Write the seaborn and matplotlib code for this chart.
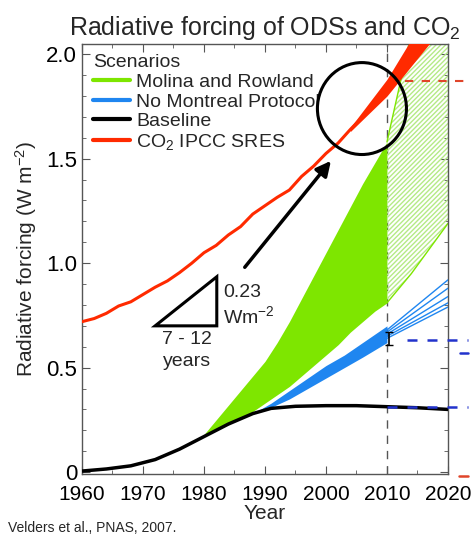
import numpy as np
import pandas as pd
import seaborn as sns
import matplotlib.pyplot as plt
from matplotlib.lines import Line2D
from matplotlib.patches import Ellipse, Polygon
from matplotlib.ticker import MultipleLocator

# CO2 IPCC SRES (observed line)
co2_years = [1960, 1962, 1964, 1966, 1968, 1970, 1972, 1974, 1976, 1978, 1980, 1982, 1984,
             1986, 1988, 1990, 1992, 1994, 1996, 1998, 2000, 2002, 2004, 2006, 2008, 2010]
co2_vals = [0.72, 0.735, 0.76, 0.795, 0.815, 0.85, 0.885, 0.915, 0.955, 1.0, 1.05, 1.085, 1.135,
            1.175, 1.235, 1.275, 1.315, 1.35, 1.415, 1.465, 1.525, 1.575, 1.64, 1.70, 1.76, 1.82]
# CO2 scenario spread
co2_fan_years = [2004, 2010, 2015, 2020]
co2_fan_low = [1.63, 1.80, 1.98, 2.16]
co2_fan_high = [1.65, 1.88, 2.12, 2.40]

# Molina and Rowland scenario band
mr_years = [1978, 1980, 1982, 1984, 1986, 1988, 1990, 1992, 1994, 1996, 1998,
            2000, 2002, 2004, 2006, 2008, 2010]
mr_low = [0.14, 0.17, 0.20, 0.23, 0.26, 0.29, 0.33, 0.37, 0.41, 0.46, 0.51,
          0.56, 0.61, 0.67, 0.72, 0.77, 0.81]
mr_high = [0.14, 0.18, 0.25, 0.32, 0.39, 0.46, 0.53, 0.62, 0.72, 0.83, 0.94,
           1.05, 1.16, 1.27, 1.38, 1.48, 1.58]
mr_fut_years = [2010, 2012, 2014, 2016, 2018, 2020]
mr_fut_low = [0.81, 0.88, 0.95, 1.03, 1.11, 1.19]
mr_fut_high = [1.58, 1.84, 2.10, 2.40, 2.70, 3.00]

# No Montreal Protocol band
nmp_years = [1988, 1991, 1994, 1997, 2000, 2003, 2006, 2010]
nmp_low = [0.28, 0.31, 0.35, 0.40, 0.45, 0.50, 0.55, 0.62]
nmp_high = [0.28, 0.33, 0.39, 0.45, 0.51, 0.56, 0.62, 0.70]
nmp_fut_start = [0.64, 0.65, 0.66, 0.67, 0.68]
nmp_fut_end = [0.79, 0.81, 0.84, 0.88, 0.92]

# Baseline
base_years = [1960, 1964, 1968, 1972, 1976, 1980, 1984, 1988, 1991, 1995, 2000, 2005, 2010, 2015, 2020]
base_vals = [0.005, 0.015, 0.03, 0.06, 0.11, 0.17, 0.23, 0.28, 0.305, 0.315, 0.318, 0.318, 0.313, 0.308, 0.30]

green = '#7ee600'
blue = '#1f86f0'
red = '#ff2a00'

sns.set_style('ticks')
plt.rcParams['font.family'] = ['Liberation Sans', 'DejaVu Sans']
plt.rcParams['mathtext.default'] = 'regular'

fig = plt.figure(figsize=(4.74, 5.34), dpi=100)
ax = fig.add_axes([0.173, 0.112, 0.772, 0.806])

# bands
ax.fill_between(mr_years, mr_low, mr_high, color=green, lw=0, zorder=2)
ax.fill_between(mr_fut_years, mr_fut_low, mr_fut_high, facecolor='none',
                edgecolor='#b5ea86', hatch='///////', lw=0, zorder=2)
ax.plot(mr_fut_years, mr_fut_low, color=green, lw=1, zorder=2)
ax.plot(mr_fut_years, mr_fut_high, color=green, lw=1, zorder=2)
ax.fill_between(nmp_years, nmp_low, nmp_high, color=blue, lw=0, zorder=3)
for s, e in zip(nmp_fut_start, nmp_fut_end):
    ax.plot([2010, 2020], [s, e], color=blue, lw=1, zorder=3)

# lines
base_df = pd.DataFrame({'Year': base_years, 'RF': base_vals})
co2_df = pd.DataFrame({'Year': co2_years, 'RF': co2_vals})
sns.lineplot(data=base_df, x='Year', y='RF', color='black', lw=2.5, ax=ax, zorder=4)
sns.lineplot(data=co2_df, x='Year', y='RF', color=red, lw=2.2, ax=ax, zorder=4)
ax.fill_between(co2_fan_years, co2_fan_low, co2_fan_high, color=red, lw=0, zorder=4)

# 2010 marker and dashed levels
ax.axvline(2010, color='#555555', lw=1, ls=(0, (6, 5)), zorder=1)
ax.errorbar([2010.4], [0.64], yerr=[[0.03], [0.03]], color='black', lw=1.2, capsize=3, zorder=5)
ax.plot([2013, 2023.3], [1.87, 1.87], color='#e0452a', lw=1.5, ls=(0, (4, 4)), clip_on=False, zorder=5)
ax.plot([2013.3, 2023.3], [0.63, 0.63], color='#2233cc', lw=1.8, ls=(0, (4, 4)), clip_on=False, zorder=5)
ax.plot([2022, 2023.3], [0.57, 0.57], color='#2233cc', lw=1.8, clip_on=False, zorder=5)
ax.plot([2010, 2023.3], [0.31, 0.31], color='#2233cc', lw=1.8, ls=(0, (4, 4)), clip_on=False, zorder=5)
ax.plot([2021.8, 2023.3], [-0.02, -0.02], color='#e0452a', lw=1.8, clip_on=False, zorder=5)

# circle, arrow, slope triangle
ax.add_patch(Ellipse((2005.9, 1.74), 14.6, 0.44, fill=False, ec='black', lw=2.2, zorder=6))
ax.annotate('', xy=(2001.1, 1.50), xytext=(1986.4, 0.97),
            arrowprops=dict(arrowstyle='-|>', color='black', lw=2.5, mutation_scale=22), zorder=6)
ax.add_patch(Polygon([[1972.0, 0.70], [1982.1, 0.70], [1982.1, 0.935]], closed=True,
                     fill=False, ec='black', lw=2.2, zorder=6))
ax.text(1983.2, 0.86, '0.23', fontsize=14, va='center', ha='left')
ax.text(1983.2, 0.745, 'Wm$^{-2}$', fontsize=14, va='center', ha='left')
ax.text(1977.2, 0.635, '7 - 12', fontsize=14, va='center', ha='center')
ax.text(1977.2, 0.53, 'years', fontsize=14, va='center', ha='center')

# legend
handles = [Line2D([], [], color=c, lw=3) for c in [green, blue, 'black', red]]
labels = ['Molina and Rowland', 'No Montreal Protocol', 'Baseline', 'CO$_2$ IPCC SRES']
leg = ax.legend(handles, labels, title='Scenarios', loc='upper left', frameon=False,
                fontsize=14, title_fontsize=14, handlelength=1.9, handletextpad=0.35,
                labelspacing=0.1, borderaxespad=0.25, borderpad=0.3, alignment='left')

# axes styling
ax.set_xlim(1960, 2020)
ax.set_ylim(-0.01, 2.05)
ax.set_xticks([1960, 1970, 1980, 1990, 2000, 2010, 2020])
ax.set_yticks([0, 0.5, 1.0, 1.5, 2.0])
ax.set_yticklabels(['0', '0.5', '1.0', '1.5', '2.0'])
ax.xaxis.set_minor_locator(MultipleLocator(5))
ax.yaxis.set_minor_locator(MultipleLocator(0.1))
ax.tick_params(which='both', direction='in', top=True, right=True, colors='#555555',
               labelcolor='black', labelsize=16)
ax.tick_params(axis='x', labelsize=15, pad=7.5)
ax.tick_params(which='major', length=6)
ax.tick_params(which='minor', length=3)
for sp in ax.spines.values():
    sp.set_color('#555555')
    sp.set_linewidth(1)
    sp.set_visible(True)
ax.set_xlabel('Year', fontsize=15, labelpad=0)
ax.set_ylabel('Radiative forcing (W m$^{-2}$)', fontsize=15, labelpad=5)
ax.set_title('Radiative forcing of ODSs and CO$_2$', fontsize=18, pad=6)
fig.text(0.017, 0.004, 'Velders et al., PNAS, 2007.', fontsize=10)

fig.savefig('out.png', dpi=100)
